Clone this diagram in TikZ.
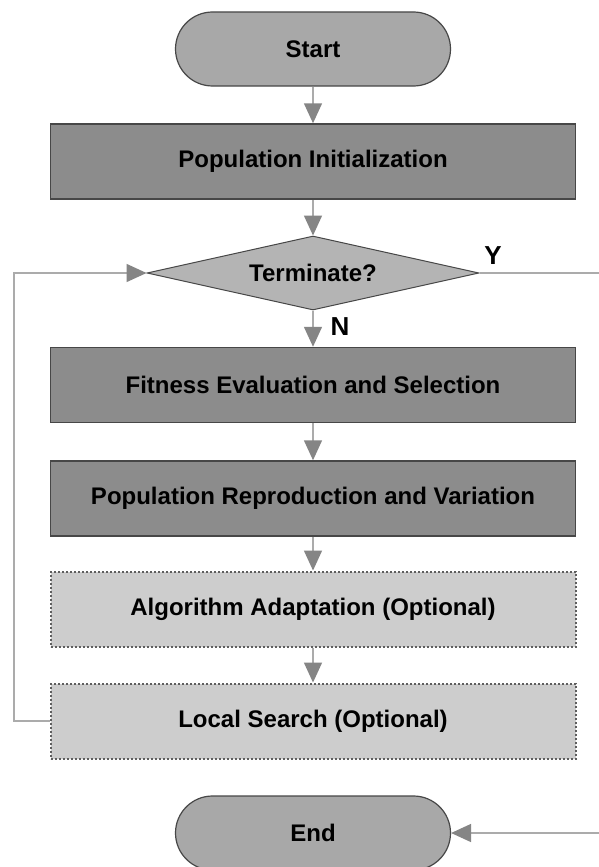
\documentclass[tikz,border=0pt]{standalone}
\usepackage{fontspec}
\setmainfont{Liberation Sans}
\usetikzlibrary{shapes.geometric,shapes.misc,arrows.meta}
\definecolor{pillfill}{HTML}{A8A8A8}
\definecolor{procfill}{HTML}{8C8C8C}
\definecolor{diafill}{HTML}{B4B4B4}
\definecolor{optfill}{HTML}{CDCDCD}
\definecolor{linecol}{HTML}{ABABAB}
\definecolor{headcol}{HTML}{858585}
\definecolor{edgecol}{HTML}{474747}
\definecolor{dotcol}{HTML}{5E5E5E}
\begin{document}
\begin{tikzpicture}[x=1pt,y=-1pt,
  font=\fontsize{24}{28}\selectfont\bfseries,
  pill/.style={rounded rectangle, draw=edgecol, line width=1.2pt, fill=pillfill,
    minimum width=275pt, minimum height=74pt, inner sep=0pt},
  proc/.style={rectangle, draw=edgecol, line width=1.5pt, fill=procfill,
    minimum width=525pt, minimum height=75pt, inner sep=0pt},
  opt/.style={rectangle, draw=dotcol, line width=2pt, dash pattern=on 2pt off 2pt,
    fill=optfill, minimum width=525pt, minimum height=75pt, inner sep=0pt},
  dec/.style={diamond, draw=edgecol, line width=1pt, fill=diafill,
    minimum width=332pt, minimum height=74pt, aspect=4.5, inner sep=0pt},
  conn/.style={draw=linecol, line width=1.5pt,
    -{Triangle[length=20pt,width=18pt,color=headcol]}},
  lab/.style={font=\fontsize{26}{30}\selectfont\bfseries, inner sep=0pt}
]
\useasboundingbox (0,0) rectangle (599,867);
\clip (0,0) rectangle (599,867);
\fill[white] (0,0) rectangle (599,867);

\node[pill] (start) at (313,49) {Start};
\node[proc] (init) at (313,161.5) {Population Initialization};
\node[dec]  (term) at (313,273) {Terminate?};
\node[proc] (fit)  at (313,385) {Fitness Evaluation and Selection};
\node[proc] (rep)  at (313,498.5) {Population Reproduction and Variation};
\node[opt]  (alg)  at (313,609) {Algorithm Adaptation (Optional)};
\node[opt]  (ls)   at (313,721) {Local Search (Optional)};
\node[pill] (end)  at (313,833) {End};

\node[lab] (ylab) at (493,256) {Y};
\node[lab] (nlab) at (340,327) {N};

\coordinate (lb) at (14,721);
\coordinate (lt) at (14,273);
\coordinate (rt) at (602,273);
\coordinate (rb) at (602,833);

\draw[conn] (start.south) -- (init.north);
\draw[conn] (init.south) -- (term.north);
\draw[conn] (term.south) -- (fit.north);
\draw[conn] (fit.south) -- (rep.north);
\draw[conn] (rep.south) -- (alg.north);
\draw[conn] (alg.south) -- (ls.north);
\draw[conn] (ls.west) -- (lb) -- (lt) -- (term.west);
\draw[conn] (term.east) -- (rt) -- (rb) -- (end.east);
\end{tikzpicture}
\end{document}
